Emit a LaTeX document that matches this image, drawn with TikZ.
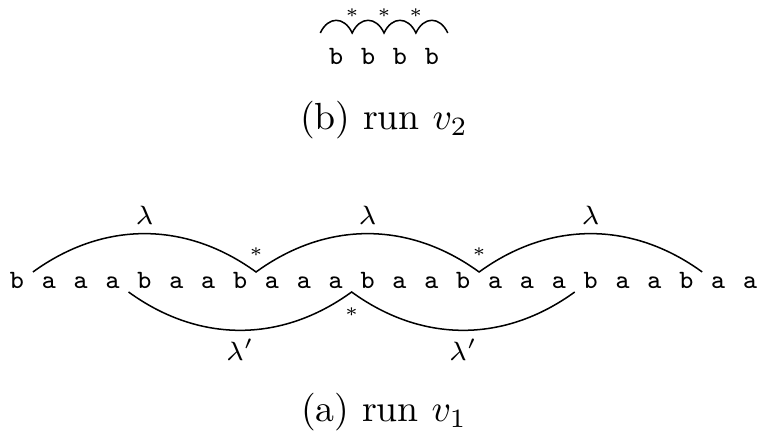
\documentclass[tikz,border=0pt]{standalone}
\usetikzlibrary{calc}
\begin{document}
\begin{tikzpicture}[x=0.26458pt,y=0.26458pt,
  letter/.style={font=\fontsize{7}{8}\selectfont\ttfamily, inner sep=0pt, anchor=base},
  lab/.style={font=\fontsize{7.5}{9}\selectfont, inner sep=0pt},
  starlab/.style={font=\fontsize{5}{6}\selectfont, inner sep=0pt},
  captext/.style={font=\fontsize{10}{12}\selectfont, inner sep=0pt, anchor=base},
  arcline/.style={line width=0.4pt}]
\useasboundingbox (0,0) rectangle (759,432);
% (a) row
\foreach \c [count=\i from 0] in {b,a,a,a,b,a,a,b,a,a,a,b,a,a,b,a,a,a,b,a,a,b,a,a}
  \node[letter] (l\i) at ({17+31.87*\i},143) {\c};
\foreach \k/\p in {0/0.5,1/7.5,2/14.5,3/21.5}
  \coordinate (t\k) at ({17+31.87*\p},160);
\foreach \k/\p in {0/3.5,1/10.5,2/17.5}
  \coordinate (d\k) at ({17+31.87*\p},140);
\draw[arcline] (t0) to[bend left=36] (t1) to[bend left=36] (t2) to[bend left=36] (t3);
\draw[arcline] (d0) to[bend right=36] (d1) to[bend right=36] (d2);
\node[lab] (lam1) at ($(t0)!0.5!(t1)+(0,57)$) {$\lambda$};
\node[lab] (lam2) at ($(t1)!0.5!(t2)+(0,57)$) {$\lambda$};
\node[lab] (lam3) at ($(t2)!0.5!(t3)+(0,57)$) {$\lambda$};
\node[lab] (lamp1) at ($(d0)!0.5!(d1)+(0,-58)$) {$\lambda'$};
\node[lab] (lamp2) at ($(d1)!0.5!(d2)+(0,-58)$) {$\lambda'$};
\node[starlab] (st1) at ($(t1)+(0,20)$) {$\ast$};
\node[starlab] (st2) at ($(t2)+(0,20)$) {$\ast$};
\node[starlab] (sd1) at ($(d1)+(0,-20)$) {$\ast$};
\node[captext] (capa) at (384,10) {(a) run $v_1$};
% (b) row
\foreach \c [count=\j from 0] in {b,b,b,b}
  \node[letter] (m\j) at ({336.2+31.87*\j},367) {\c};
\foreach \j in {0,...,4}
  \coordinate (u\j) at ({320.3+31.87*\j},399);
\draw[arcline] (u0) to[out=65,in=115,looseness=1.5] (u1)
  to[out=65,in=115,looseness=1.5] (u2)
  to[out=65,in=115,looseness=1.5] (u3)
  to[out=65,in=115,looseness=1.5] (u4);
\node[starlab] (su1) at ($(u1)+(0,20)$) {$\ast$};
\node[starlab] (su2) at ($(u2)+(0,20)$) {$\ast$};
\node[starlab] (su3) at ($(u3)+(0,20)$) {$\ast$};
\node[captext] (capb) at (384,302) {(b) run $v_2$};
\end{tikzpicture}
\end{document}
